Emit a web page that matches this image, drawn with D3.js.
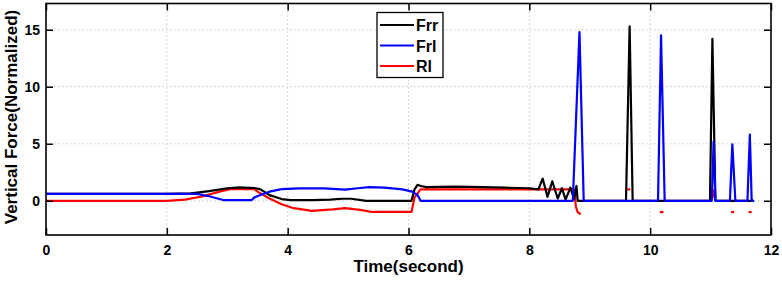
<!DOCTYPE html>
<html>
<head>
<meta charset="utf-8">
<script src="https://cdn.jsdelivr.net/npm/d3@7"></script>
<style>
  body { margin: 0; background: #fff; }
  text { font-family: "Liberation Sans", Arial, sans-serif; font-weight: bold; }
</style>
</head>
<body>
<div id="chart-area"></div>
<script>
// data (time in s, normalized force)
var frrT = [0, 2.0, 2.4, 2.7, 3.0, 3.2, 3.45, 3.55, 3.7, 3.9, 4.05, 4.4, 4.7, 4.9, 5.05, 5.3, 6.05, 6.1, 6.15, 6.2, 6.3, 6.5, 6.8, 7.2, 7.6, 8.0, 8.15, 8.22, 8.3, 8.38, 8.47, 8.54, 8.6, 8.68, 8.74, 8.78, 8.8, 9.6, 9.66, 9.71, 10.99, 11.03, 11.08, 11.72]
var frrV = [0.6, 0.6, 0.65, 0.85, 1.1, 1.17, 1.12, 1.0, 0.5, 0.15, 0.06, 0.05, 0.1, 0.18, 0.18, 0, 0, 1.0, 1.4, 1.3, 1.2, 1.22, 1.25, 1.2, 1.15, 1.1, 1.0, 1.95, 0.35, 1.7, 0.2, 1.1, 0.1, 1.15, 0.15, 1.3, 0, 0, 15.3, 0, 0, 14.2, 0, 0]

var frlT = [0, 2.5, 2.7, 2.95, 3.4, 3.45, 3.55, 3.7, 3.9, 4.2, 4.6, 4.95, 5.2, 5.35, 5.6, 5.9, 6.06, 6.15, 6.2, 8.72, 8.83, 8.9, 10.13, 10.18, 10.24, 11.02, 11.05, 11.08, 11.32, 11.36, 11.41, 11.61, 11.65, 11.68, 11.72]
var frlV = [0.6, 0.6, 0.4, 0.05, 0.05, 0.3, 0.5, 0.8, 1.02, 1.08, 1.08, 0.98, 1.12, 1.2, 1.15, 1.0, 0.8, 0.5, 0, 0, 14.8, 0, 0, 14.5, 0, 0, 5.2, 0, 0, 4.95, 0, 0, 5.8, 0, 0]

// null = no sample (gap in the trace)
var rlT = [0, 2.0, 2.3, 2.6, 2.9, 3.05, 3.45, 3.5, 3.7, 3.9, 4.1, 4.4, 4.75, 4.95, 5.2, 5.4, 6.05, 6.1, 6.2, 8.74, 8.77, 8.8, 8.85, 8.86, 9.62, 9.67, 9.68, 10.16, 10.22, 10.23, 11.02, 11.04, 11.06, 11.07, 11.34, 11.39, 11.4, 11.63, 11.68]
var rlV = [0, 0, 0.1, 0.4, 0.85, 1.02, 1.02, 0.8, 0.2, -0.3, -0.65, -0.88, -0.75, -0.65, -0.8, -0.98, -0.98, 0.3, 1.0, 1.0, -0.5, -1.0, -1.2, null, 1.0, 1.0, null, -1.0, -1.0, null, 1.0, 0.35, 1.0, null, -1.0, -1.0, null, -1.0, -1.0]

var seriesNames = ["Frr", "Frl", "Rl"]
var seriesColors = ["#000000", "#0000ff", "#ff0000"]
var xTicks = [0, 2, 4, 6, 8, 10, 12]
var yTicks = [0, 5, 10, 15]

var cw = 782, ch = 286
var m = {l: 46, t: 3.5, r: 11, b: 51}
var w = cw - m.l - m.r
var h = ch - m.t - m.b

var svg = d3.select("#chart-area").append("svg")
    .attr("width", cw)
    .attr("height", ch)

var g = svg.append("g").attr("transform", "translate(" + m.l + ", " + m.t + ")")

var x = d3.scaleLinear().domain([0, 12]).range([0, w])
var y = d3.scaleLinear().domain([-3, 17.3]).range([h, 0])

// dotted grid
g.selectAll(".xgrid").data(xTicks.slice(1, -1)).enter().append("line")
    .attr("x1", d => x(d)).attr("x2", d => x(d))
    .attr("y1", 0).attr("y2", h)
    .attr("stroke", "#c8c8c8").attr("stroke-width", 1)
    .attr("stroke-dasharray", "1.5,2.5")
g.selectAll(".ygrid").data(yTicks).enter().append("line")
    .attr("x1", 0).attr("x2", w)
    .attr("y1", d => y(d)).attr("y2", d => y(d))
    .attr("stroke", "#c8c8c8").attr("stroke-width", 1)
    .attr("stroke-dasharray", "1.5,2.5")

function pairs(t, v) {
    return t.map((d, i) => ({t: d, v: v[i]}))
}
var series = [pairs(frrT, frrV), pairs(frlT, frlV), pairs(rlT, rlV)]

var line = d3.line()
    .defined(d => d.v !== null)
    .x(d => x(d.t))
    .y(d => y(d.v))

// draw red first, then black, blue on top
var order = [2, 0, 1]
order.forEach(i => {
    g.append("path")
        .datum(series[i])
        .attr("fill", "none")
        .attr("stroke", seriesColors[i])
        .attr("stroke-width", 2.2)
        .attr("stroke-linejoin", "round")
        .attr("d", line)
})

// axes, ticks pointing inwards on all four sides
var bottomAxis = d3.axisBottom(x).tickValues(xTicks).tickSizeInner(-7).tickSizeOuter(0).tickPadding(10)
var leftAxis = d3.axisLeft(y).tickValues(yTicks).tickSizeInner(-7).tickSizeOuter(0).tickPadding(6)

var xAxisGroup = g.append("g")
    .attr("transform", "translate(0, " + h + ")")
    .call(bottomAxis)
var yAxisGroup = g.append("g").call(leftAxis)
g.append("g").call(d3.axisTop(x).tickValues(xTicks).tickSizeInner(-7).tickSizeOuter(0).tickFormat(""))
g.append("g").attr("transform", "translate(" + w + ", 0)")
    .call(d3.axisRight(y).tickValues(yTicks).tickSizeInner(-7).tickSizeOuter(0).tickFormat(""))

g.selectAll(".domain").remove()
g.selectAll(".tick line").attr("stroke", "#000").attr("stroke-width", 1.5)
g.selectAll(".tick text").attr("font-size", "14px").attr("fill", "#000")

g.append("rect")
    .attr("x", 0).attr("y", 0).attr("width", w).attr("height", h)
    .attr("fill", "none").attr("stroke", "#000").attr("stroke-width", 1.6)

// axis labels
g.append("text")
    .attr("x", w / 2)
    .attr("y", h + 37)
    .attr("font-size", "17px")
    .attr("text-anchor", "middle")
    .text("Time(second)")

g.append("text")
    .attr("x", -(117 - m.t))
    .attr("y", -m.l + 17)
    .attr("font-size", "17px")
    .attr("text-anchor", "middle")
    .attr("transform", "rotate(-90)")
    .text("Vertical Force(Normalized)")

// legend
var legend = svg.append("g").attr("transform", "translate(377, 12.5)")
legend.append("rect")
    .attr("width", 66).attr("height", 65)
    .attr("fill", "#fff").attr("stroke", "#000").attr("stroke-width", 1.3)

var items = legend.selectAll(".legend-item")
    .data(seriesNames)
    .enter().append("g")
    .attr("transform", (d, i) => "translate(0, " + (12.5 + i * 20.5) + ")")
items.append("line")
    .attr("x1", 3).attr("x2", 37)
    .attr("stroke", (d, i) => seriesColors[i])
    .attr("stroke-width", 2.2)
items.append("text")
    .attr("x", 39).attr("y", 6)
    .attr("font-size", "16px")
    .text(d => d)
</script>
</body>
</html>
